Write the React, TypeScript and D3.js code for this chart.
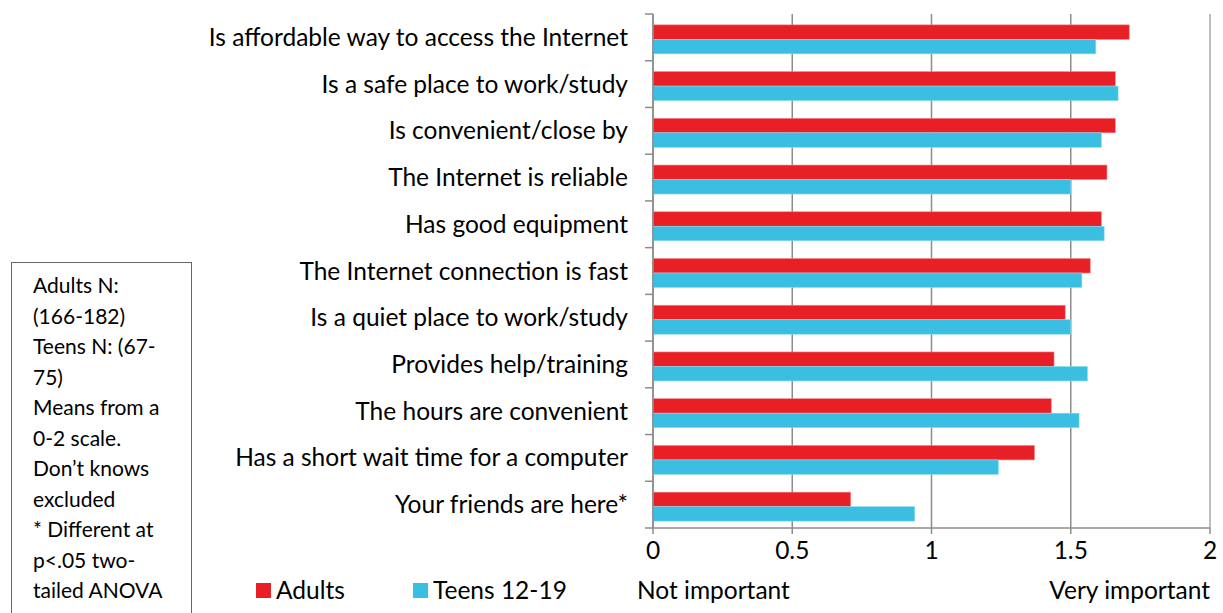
import React from "react";
import * as d3 from "d3";

const categories = [
  "Is affordable way to access the Internet",
  "Is a safe place to work/study",
  "Is convenient/close by",
  "The Internet is reliable",
  "Has good equipment",
  "The Internet connection is fast",
  "Is a quiet place to work/study",
  "Provides help/training",
  "The hours are convenient",
  "Has a short wait time for a computer",
  "Your friends are here*",
];
const adults = [1.71, 1.66, 1.66, 1.63, 1.61, 1.57, 1.48, 1.44, 1.43, 1.37, 0.71];
const teens = [1.59, 1.67, 1.61, 1.5, 1.62, 1.54, 1.5, 1.56, 1.53, 1.24, 0.94];
const xTicks = [0, 0.5, 1, 1.5, 2];
const seriesNames = ["Adults", "Teens 12-19"];
const seriesColors = ["#E81F25", "#3ABFE2"];
const noteLines = [
  "Adults N:",
  "(166-182)",
  "Teens N: (67-",
  "75)",
  "Means from a",
  "0-2 scale.",
  "Don\u2019t knows",
  "excluded",
  "* Different at",
  "p<.05 two-",
  "tailed ANOVA",
];

const FONT = "Lato, 'Open Sans', sans-serif";

export default function App() {
  const W = 1223, H = 613;
  const left = 653, right = 1210, top = 14, bottom = 528;
  const x = d3.scaleLinear().domain([0, 2]).range([left, right]);
  const y = d3.scaleBand<number>().domain(d3.range(categories.length)).range([top, bottom]).paddingInner(0).paddingOuter(0);
  const bw = y.bandwidth();
  const barH = 14.5;
  const grid = "#8c8c8c";
  const FS = 24.5;

  return (
    <svg width={W} height={H} style={{ position: "absolute", left: 0, top: 0, background: "#fff" }} fontFamily={FONT}>
      <rect width={W} height={H} fill="#fff" />
      {xTicks.map((t) => (
        <line key={"g" + t} x1={x(t)} x2={x(t)} y1={top} y2={bottom} stroke={t === 2 ? "#a8a8a8" : grid} strokeWidth={1.5} />
      ))}
      {categories.map((c, i) => {
        const y0 = (y(i) as number) + bw / 2 - barH + 2;
        return (
          <g key={c}>
            <rect x={x(0)} y={y0} width={x(adults[i]) - x(0)} height={barH} fill={seriesColors[0]} stroke="#f08a8d" strokeWidth={0.6} />
            <rect x={x(0)} y={y0 + barH} width={x(teens[i]) - x(0)} height={barH} fill={seriesColors[1]} stroke="#8fdaf0" strokeWidth={0.6} />
          </g>
        );
      })}
      <line x1={left} x2={left} y1={top} y2={bottom} stroke={grid} strokeWidth={1.5} />
      {d3.range(categories.length + 1).map((i) => {
        const yy = top + i * bw;
        return <line key={"t" + i} x1={left - 8} x2={left} y1={yy} y2={yy} stroke={grid} strokeWidth={1.5} />;
      })}
      <line x1={left} x2={right} y1={bottom} y2={bottom} stroke={grid} strokeWidth={1.5} />
      {xTicks.map((t) => (
        <line key={"bt" + t} x1={x(t)} x2={x(t)} y1={bottom} y2={bottom + 6} stroke={grid} strokeWidth={1.5} />
      ))}
      {xTicks.map((t) => (
        <text key={"tl" + t} x={x(t)} y={559} textAnchor="middle" fontSize={FS} fill="#000">
          {String(t)}
        </text>
      ))}
      {categories.map((c, i) => (
        <text key={"cl" + i} x={628} y={(y(i) as number) + bw / 2} dy="0.35em" textAnchor="end" fontSize={FS} fill="#000">
          {c}
        </text>
      ))}
      <text x={637} y={599} fontSize={FS} fill="#000">Not important</text>
      <text x={1210} y={599} textAnchor="end" fontSize={FS} fill="#000">Very important</text>
      {seriesNames.map((s, i) => {
        const lx = i === 0 ? 256 : 413;
        return (
          <g key={s}>
            <rect x={lx} y={583} width={15} height={15} fill={seriesColors[i]} />
            <text x={lx + 20} y={599} fontSize={FS} fill="#000">{s}</text>
          </g>
        );
      })}
      <rect x={11.5} y={262.5} width={180} height={360} fill="none" stroke="#666" strokeWidth={1} />
      {noteLines.map((l, i) => (
        <text key={"n" + i} x={33} y={293 + i * 30.5} fontSize={21} fill="#000">{l}</text>
      ))}
    </svg>
  );
}
